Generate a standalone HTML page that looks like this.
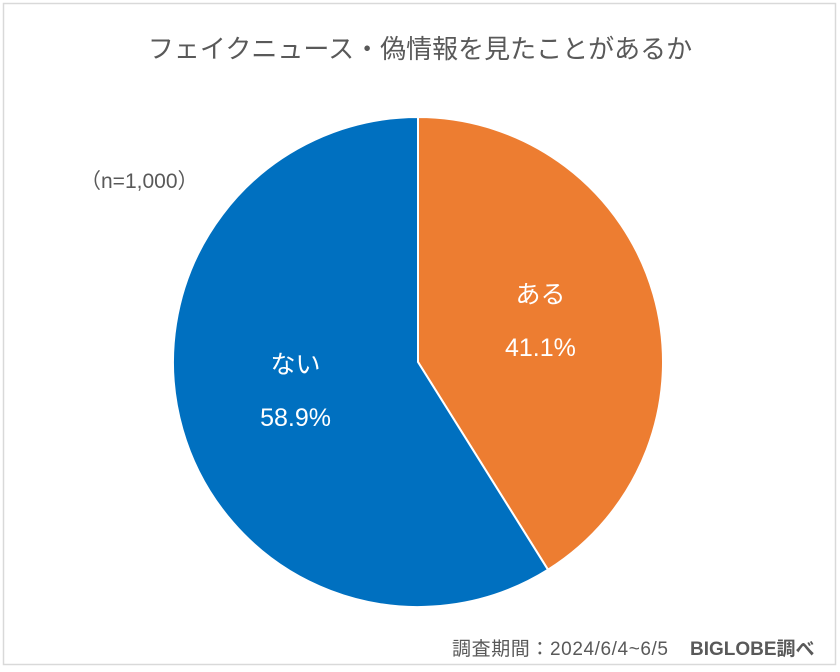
<!DOCTYPE html>
<html><head><meta charset="utf-8"><style>
body{margin:0;background:#fff;}
#wrap{position:relative;width:840px;height:672px;overflow:hidden;font-family:"Liberation Sans","Noto Sans CJK JP",sans-serif;}
</style></head><body>
<div id="wrap">
<svg id="chart" width="840" height="672">
<rect x="3.5" y="3.5" width="832" height="661" fill="#fff" stroke="#d9d9d9" stroke-width="1.5"/>
<text x="420" y="58" text-anchor="middle" font-size="26" fill="#595959" font-family="Liberation Sans, Noto Sans CJK JP, sans-serif">フェイクニュース・偽情報を見たことがあるか</text>
<text x="80" y="188" font-size="21" fill="#595959" font-family="Liberation Sans, Noto Sans CJK JP, sans-serif">（n=1,000）</text>
<g id="slices"></g>
<g id="labels"></g>
<text x="452" y="655" font-size="19" textLength="216" fill="#595959" font-family="Liberation Sans, Noto Sans CJK JP, sans-serif">調査期間：2024/6/4~6/5</text>
<text x="690" y="655" font-size="19" font-weight="bold" fill="#595959" font-family="Liberation Sans, Noto Sans CJK JP, sans-serif">BIGLOBE調べ</text>
</svg>
</div>
<script>
const categories = ["ある", "ない"];
const values = [41.1, 58.9];
const valueLabels = ["41.1%", "58.9%"];
const colors = ["#ed7d31", "#0070c0"];
const cx = 418, cy = 362, r = 245;
const ns = "http://www.w3.org/2000/svg";
const total = values.reduce((a,b)=>a+b,0);
function pt(frac, rad){const a = frac*2*Math.PI - Math.PI/2; return [cx+rad*Math.cos(a), cy+rad*Math.sin(a)];}
let acc = 0;
const gs = document.getElementById('slices'), gl = document.getElementById('labels');
values.forEach((v,i)=>{
  const f0 = acc/total, f1 = (acc+v)/total; acc += v;
  const p0 = pt(f0,r), p1 = pt(f1,r);
  const large = (f1-f0) > 0.5 ? 1 : 0;
  const path = document.createElementNS(ns,'path');
  path.setAttribute('d',`M${cx},${cy} L${p0[0]},${p0[1]} A${r},${r} 0 ${large} 1 ${p1[0]},${p1[1]} Z`);
  path.setAttribute('fill',colors[i]);
  path.setAttribute('stroke','#fff');
  path.setAttribute('stroke-width','2');
  
  
  gs.appendChild(path);
  const m = pt((f0+f1)/2, r*0.52);
  const t1 = document.createElementNS(ns,'text');
  t1.setAttribute('x',m[0]); t1.setAttribute('y',m[1]-24);
  t1.setAttribute('text-anchor','middle'); t1.setAttribute('font-size','25'); t1.setAttribute('fill','#fff');
  t1.textContent = categories[i];
  
  
  gl.appendChild(t1);
  const t2 = document.createElementNS(ns,'text');
  t2.setAttribute('x',m[0]); t2.setAttribute('y',m[1]+29);
  t2.setAttribute('text-anchor','middle'); t2.setAttribute('font-size','25'); t2.setAttribute('fill','#fff');
  t2.textContent = valueLabels[i];
  
  
  gl.appendChild(t2);
});
</script>
</body></html>
